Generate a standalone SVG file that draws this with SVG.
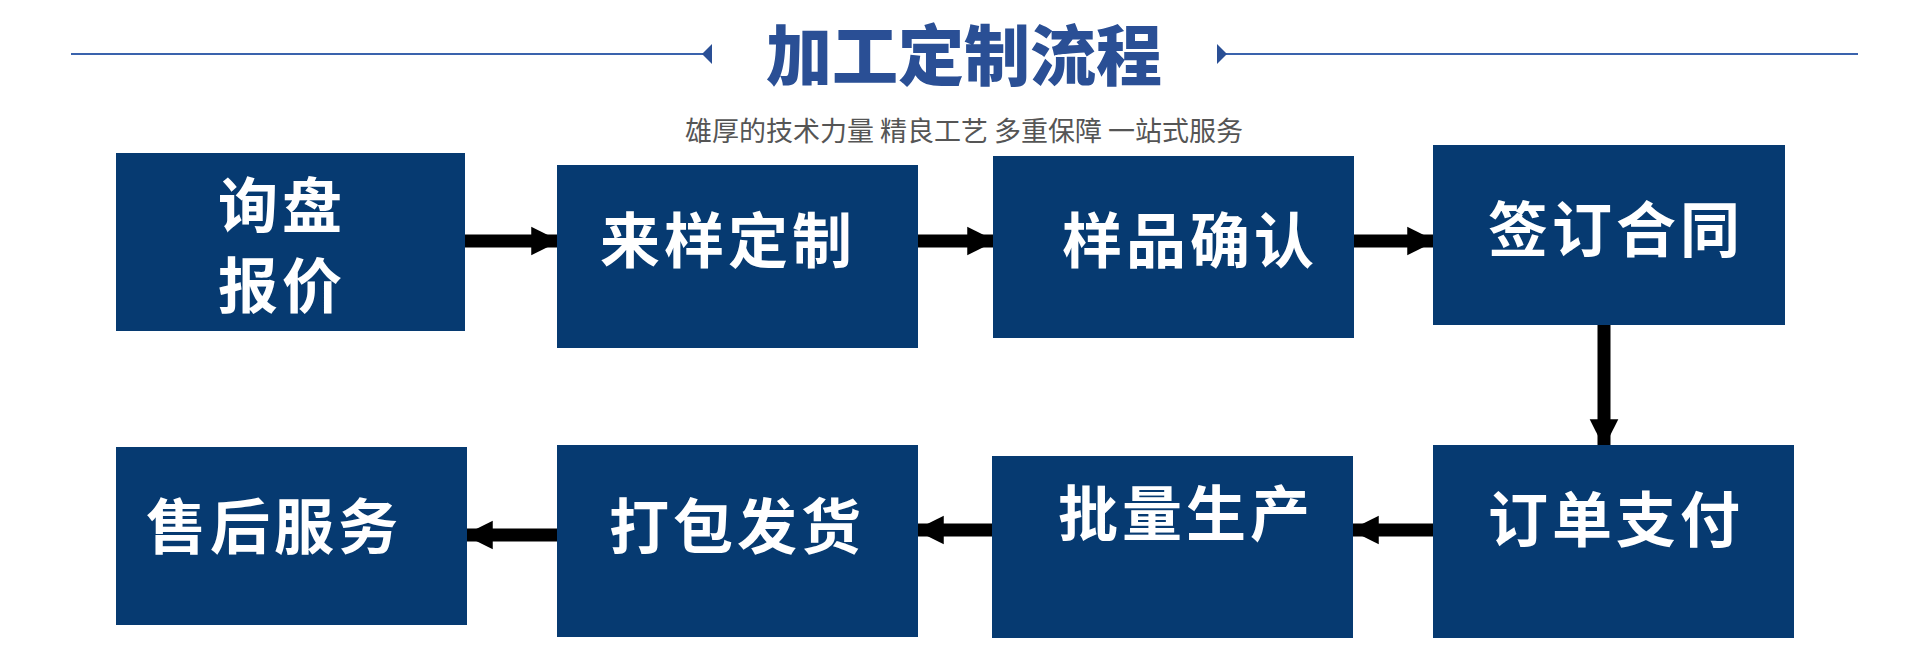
<svg xmlns="http://www.w3.org/2000/svg" width="1920" height="650" viewBox="0 0 1920 650">
<style>
.box{fill:#063a71}
.t{fill:#fff;font-family:"Noto Sans CJK SC",sans-serif;font-weight:bold;font-size:60px;text-anchor:middle;letter-spacing:4px}
.c{stroke:#000;stroke-width:13;fill:none}
</style>
<defs>
<marker id="ah" viewBox="0 0 10 10" refX="9" refY="5" markerWidth="2.2" markerHeight="2.6" orient="auto" markerUnits="strokeWidth"><path d="M0,0L10,5L0,10Z" fill="#000"/></marker>
</defs>
<rect width="1920" height="650" fill="#fff"/>
<g id="header">
<line x1="71" y1="54" x2="704" y2="54" stroke="#3a63ad" stroke-width="2"/>
<path d="M712,44L702,54L712,64Z" fill="#2a4f95"/>
<line x1="1225" y1="54" x2="1858" y2="54" stroke="#3a63ad" stroke-width="2"/>
<path d="M1217,44L1227,54L1217,64Z" fill="#2a4f95"/>
<text x="964" y="80" font-family="Noto Sans CJK SC,sans-serif" font-weight="900" font-size="66" fill="#2a4f95" text-anchor="middle">加工定制流程</text>
<text x="964" y="141" font-family="Noto Sans CJK SC,sans-serif" font-size="27" fill="#555" text-anchor="middle">雄厚的技术力量 精良工艺 多重保障 一站式服务</text>
</g>
<g id="connectors">
<line class="c" x1="465" y1="241" x2="557" y2="241" marker-end="url(#ah)"/>
<line class="c" x1="918" y1="241" x2="993" y2="241" marker-end="url(#ah)"/>
<line class="c" x1="1354" y1="241" x2="1433" y2="241" marker-end="url(#ah)"/>
<line class="c" x1="1604" y1="325" x2="1604" y2="445" marker-end="url(#ah)"/>
<line class="c" x1="1433" y1="530" x2="1353" y2="530" marker-end="url(#ah)"/>
<line class="c" x1="992" y1="530" x2="918" y2="530" marker-end="url(#ah)"/>
<line class="c" x1="557" y1="535" x2="467" y2="535" marker-end="url(#ah)"/>
</g>
<g id="n1"><rect class="box" x="116" y="153" width="349" height="178"/><text class="t" x="282" y="228" font-size="56">询盘</text><text class="t" x="282" y="308" font-size="56">报价</text></g>
<g id="n2"><rect class="box" x="557" y="165" width="361" height="183"/><text class="t" x="728" y="263">来样定制</text></g>
<g id="n3"><rect class="box" x="993" y="156" width="361" height="182"/><text class="t" x="1190" y="263">样品确认</text></g>
<g id="n4"><rect class="box" x="1433" y="145" width="352" height="180"/><text class="t" x="1616" y="252">签订合同</text></g>
<g id="n5"><rect class="box" x="1433" y="445" width="361" height="193"/><text class="t" x="1616" y="542">订单支付</text></g>
<g id="n6"><rect class="box" x="992" y="456" width="361" height="182"/><text class="t" x="1186" y="536">批量生产</text></g>
<g id="n7"><rect class="box" x="557" y="445" width="361" height="192"/><text class="t" x="737" y="549">打包发货</text></g>
<g id="n8"><rect class="box" x="116" y="447" width="351" height="178"/><text class="t" x="274" y="549">售后服务</text></g>
</svg>
